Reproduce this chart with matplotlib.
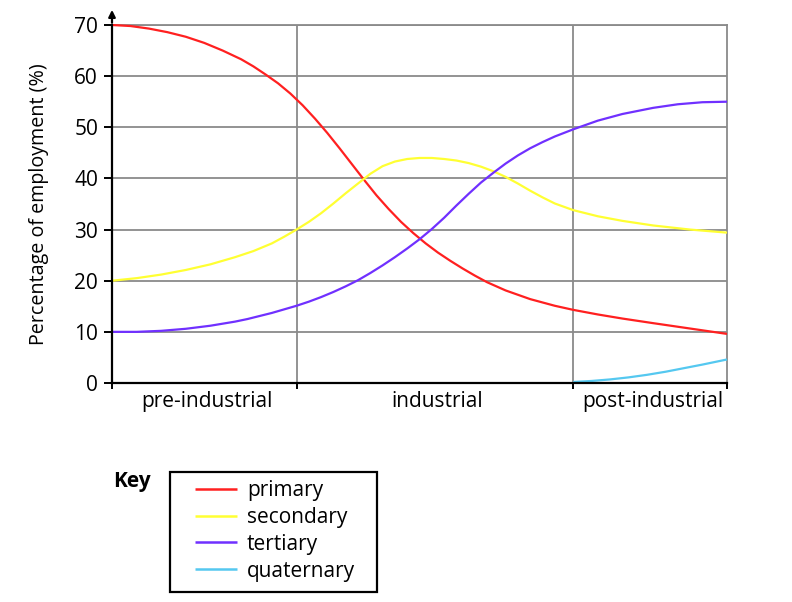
import matplotlib
matplotlib.use("Agg")
import matplotlib.pyplot as plt
from matplotlib.patches import Rectangle

plt.rcParams['font.family'] = ['Open Sans', 'DejaVu Sans']

# Stage boundaries along x (relative position, 0-100)
stage_bounds = [0, 30, 75, 100]
stage_labels = ["pre-industrial", "industrial", "post-industrial"]
stage_centers = [15.5, 52.8, 88]

yticks = [0, 10, 20, 30, 40, 50, 60, 70]

primary_x = [0, 3, 6, 9, 12, 15, 18, 21, 23, 25, 27, 29, 31, 33, 35, 37, 39, 41, 43, 45, 47, 49, 51, 53, 55,
             57, 59, 61, 64, 68, 72, 75, 79, 83, 88, 92, 96, 100]
primary_y = [70, 69.8, 69.3, 68.6, 67.7, 66.5, 65, 63.3, 61.9, 60.3, 58.6, 56.6, 54.3, 51.7, 48.9, 45.9, 42.8,
             39.7, 36.7, 34, 31.5, 29.3, 27.3, 25.5, 23.9, 22.4, 21, 19.7, 18.1, 16.4, 15.1, 14.3, 13.4,
             12.6, 11.7, 11, 10.3, 9.6]

secondary_x = [0, 4, 8, 12, 16, 20, 23, 26, 28, 30, 32, 34, 36, 38, 40, 42, 44, 46, 48, 50, 52, 54, 56, 58,
               60, 62, 64, 66, 68, 70, 72, 75, 79, 83, 88, 94, 100]
secondary_y = [20, 20.5, 21.2, 22.1, 23.2, 24.6, 25.8, 27.3, 28.6, 30, 31.5, 33.2, 35.1, 37.1, 39, 40.9, 42.4,
               43.3, 43.8, 44, 44, 43.8, 43.5, 43, 42.3, 41.4, 40.3, 39, 37.6, 36.3, 35.1, 33.8, 32.6,
               31.7, 30.8, 30, 29.4]

tertiary_x = [0, 4, 8, 12, 16, 20, 22, 24, 26, 28, 30, 32, 34, 36, 38, 40, 42, 44, 46, 48, 50, 52, 54, 56, 58,
              60, 62, 64, 66, 68, 70, 72, 75, 79, 83, 88, 92, 96, 100]
tertiary_y = [10, 10, 10.2, 10.6, 11.2, 12, 12.5, 13.1, 13.7, 14.4, 15.1, 15.9, 16.8, 17.8, 18.9, 20.1, 21.5,
              23, 24.6, 26.3, 28.1, 30.1, 32.3, 34.7, 37, 39.2, 41.1, 42.9, 44.5, 45.9, 47.1, 48.2, 49.6,
              51.3, 52.6, 53.8, 54.5, 54.9, 55]

quaternary_x = [75, 78, 81, 84, 87, 90, 93, 96, 100]
quaternary_y = [0.2, 0.4, 0.7, 1.1, 1.6, 2.2, 2.9, 3.6, 4.6]

series_names = ["primary", "secondary", "tertiary", "quaternary"]
colors = ["#ff2020", "#ffff33", "#7030ff", "#55c8f0"]

fig = plt.figure(figsize=(7.92, 6.02), dpi=100)
ax = fig.add_axes([112/792, 1-383/602, (727-112)/792, (383-25)/602])

ax.set_xlim(0, 100)
ax.set_ylim(0, 70)

grid_c = "#8a8a8a"
for y in yticks[1:]:
    ax.axhline(y, color=grid_c, lw=1.3, zorder=1)
for x in stage_bounds[1:-1]:
    ax.axvline(x, color=grid_c, lw=1.3, zorder=1)

lines = []
for xs, ys, c, n in zip([primary_x, secondary_x, tertiary_x, quaternary_x],
                        [primary_y, secondary_y, tertiary_y, quaternary_y],
                        colors, series_names):
    ln, = ax.plot(xs, ys, color=c, lw=1.6, label=n, zorder=3, clip_on=False,
                  solid_capstyle='butt', solid_joinstyle='round', antialiased=True)
    lines.append(ln)

for s in ["top", "right"]:
    ax.spines[s].set_color(grid_c)
    ax.spines[s].set_linewidth(1.3)
for s in ["left", "bottom"]:
    ax.spines[s].set_color("black")
    ax.spines[s].set_linewidth(1.6)
    ax.spines[s].set_zorder(4)

ax.set_yticks(yticks)
ax.set_yticklabels([str(v) for v in yticks], fontsize=15)
ax.tick_params(axis='y', direction='out', length=6, width=1.4, pad=4)

ax.set_xticks(stage_bounds)
ax.set_xticklabels([])
ax.tick_params(axis='x', which='major', direction='out', length=4, width=1.4)
ax.set_xticks(stage_centers, minor=True)
ax.set_xticklabels(stage_labels, minor=True, fontsize=15)
ax.tick_params(axis='x', which='minor', length=0, pad=6)

ax.set_ylabel("Percentage of employment (%)", fontsize=14.2, labelpad=18)

# arrow on y axis
ax.annotate("", xy=(0, 73.5), xytext=(0, 69.9), xycoords='data',
            arrowprops=dict(arrowstyle='-|>', color='black', lw=1.6, mutation_scale=10),
            annotation_clip=False)

fig.text(113/792, 1-482/602, "Key", fontsize=15, fontweight='bold', va='center', ha='left')

# legend frame
fig.patches.append(Rectangle((170/792, 1-592/602), (377-170)/792, (592-472)/602,
                             transform=fig.transFigure, fill=False, edgecolor='black', lw=1.6))

leg = fig.legend(handles=lines, labels=series_names, loc='upper left',
                 bbox_to_anchor=(195/792, 1-480/602), frameon=False,
                 fontsize=15, handlelength=2.0, handletextpad=0.5,
                 labelspacing=0.28, borderpad=0, borderaxespad=0)
for lh in leg.get_lines():
    lh.set_linewidth(1.8)

fig.savefig("out.png", dpi=100)
